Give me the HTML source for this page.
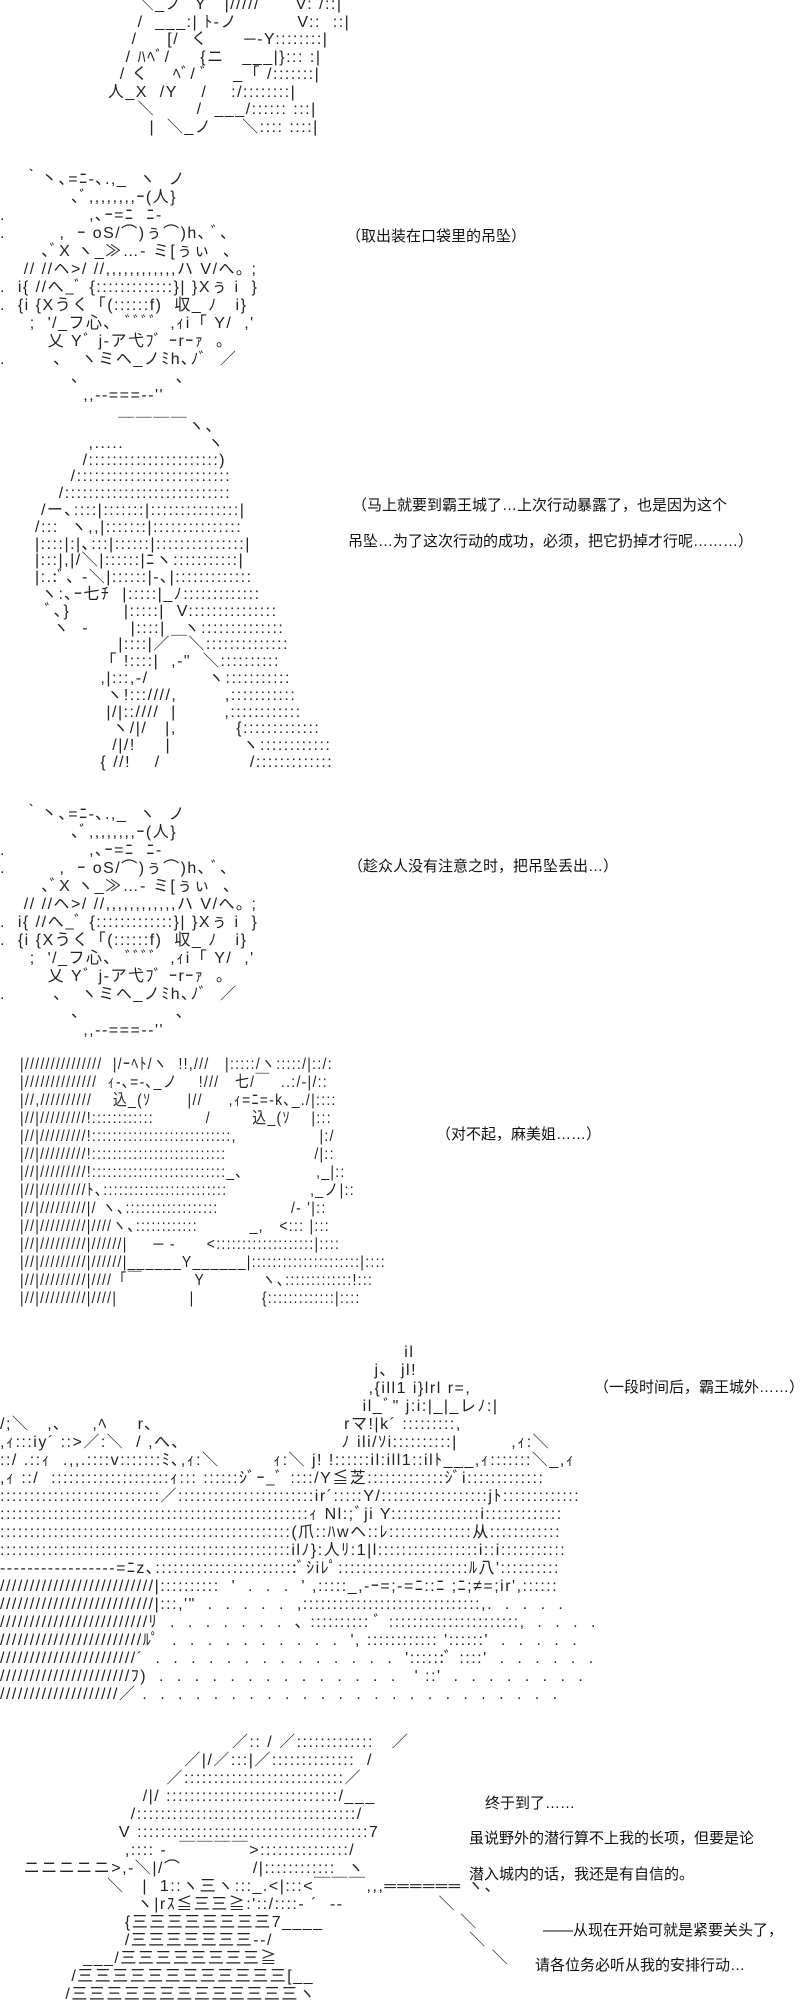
<!DOCTYPE html>
<html><head><meta charset="utf-8">
<style>
html,body{margin:0;padding:0;background:#fff;}
body{width:800px;height:2000px;position:relative;overflow:hidden;}
pre.aa{position:absolute;margin:0;font-family:"Liberation Sans","Noto Sans CJK JP",sans-serif;font-size:16px;letter-spacing:1.5px;line-height:18px;color:#222;white-space:pre;}
.t{position:absolute;font-family:"Liberation Sans","Noto Sans CJK SC",sans-serif;font-size:15px;line-height:18px;color:#111;white-space:nowrap;}
</style></head><body>

<pre class="aa" style="left:90px;top:-4px;line-height:17.5px">        ＼_ノ  Y   |/////      V: /::|
        /  ___:| ﾄ-ノ          V::  ::|
       /     [/  く      ─‐Y::::::::|
      / ﾊﾍﾞ/     {ニ   ___|}::: :|
     / く    ﾍﾞ/ ﾞ    _「 /:::::::|
   人_X  /Y    /    :/::::::::|
        ＼       /  ___/:::::: :::|
          |  ＼_ノ     ＼:::: ::::|</pre>

<pre class="aa" style="left:0px;top:171px">    ｀丶､=ﾆ-､.,_  ヽ  ノ
            ､ﾞ,,,,,,,,ｰ(人}
.              ,､ｰ=ﾆ  ﾆ-
.         ,  ｰ oS/⌒)ぅ⌒)h､ ﾞ､
       ､ﾞX ヽ_≫…‐ ミ[ぅぃ  ､
    // //ヘ>/ //,,,,,,,,,,,,ハ V/へ｡ ;
.  i{ //へ_ﾞ {:::::::::::::}| }Xぅ i  }
.  {i {Xうく「(::::::f)  収_ ﾉ   i}
     ;  '/_フ心､  ﾞﾞﾞﾞ  ,ｨi「 Y/  ,'
        乂 Yﾞ j-ア弋ﾌﾞ ｰrｰｧ  ｡
.        ､   ヽミヘ_ノﾐh､ﾉﾞ  ／
            ､                ､
              ,,‐‐===‐‐''</pre>

<div class="t" style="left:346px;top:228px">（取出装在口袋里的吊坠）</div>

<pre class="aa" style="left:35px;top:419px;line-height:16.8px">              ￣￣￣￣ヽ､
         ,.....              ヽ
        /::::::::::::::::::::::)
      /::::::::::::::::::::::::::
    /::::::::::::::::::::::::::::
 /ー､::::|:::::::|:::::::::::::::|
/:::  ヽ,,|:::::::|:::::::::::::::
|::::|:|､:::|::::::|:::::::::::::::|
|:::|,|/＼|::::::|ﾆヽ:::::::::::|
|:.:ﾞ､ ‐＼|::::::|-､|:::::::::::::
 ヽ:､ｰ七ﾁ  |:::::|_ﾉ:::::::::::::
  ﾞ､}         |:::::|  V:::::::::::::::
   ヽ  -       |::::|   ヽ::::::::::::::
              |::::|／￣＼::::::::::::::
           「 !::::|  ,-"  ＼::::::::::
           ,|:::,-/          ヽ:::::::::::
            ヽ!:::////,        ,:::::::::::
            |/|::////  |        ,::::::::::::
             ヽ/|/   |,          {:::::::::::::
             /|/!     |            ヽ::::::::::::
           { //!    /               /:::::::::::::</pre>

<div class="t" style="left:352px;top:497px">（马上就要到霸王城了…上次行动暴露了，也是因为这个</div>
<div class="t" style="left:348px;top:533px">吊坠…为了这次行动的成功，必须，把它扔掉才行呢………）</div>

<pre class="aa" style="left:0px;top:806px">    ｀丶､=ﾆ-､.,_  ヽ  ノ
            ､ﾞ,,,,,,,,ｰ(人}
.              ,､ｰ=ﾆ  ﾆ-
.         ,  ｰ oS/⌒)ぅ⌒)h､ ﾞ､
       ､ﾞX ヽ_≫…‐ ミ[ぅぃ  ､
    // //ヘ>/ //,,,,,,,,,,,,ハ V/へ｡ ;
.  i{ //へ_ﾞ {:::::::::::::}| }Xぅ i  }
.  {i {Xうく「(::::::f)  収_ ﾉ   i}
     ;  '/_フ心､  ﾞﾞﾞﾞ  ,ｨi「 Y/  ,'
        乂 Yﾞ j-ア弋ﾌﾞ ｰrｰｧ  ｡
.        ､   ヽミヘ_ノﾐh､ﾉﾞ  ／
            ､                ､
              ,,‐‐===‐‐''</pre>

<div class="t" style="left:348px;top:858px">（趁众人没有注意之时，把吊坠丢出…）</div>

<pre class="aa" style="left:20px;top:1056px;transform:scaleX(0.87);transform-origin:0 0">|///////////////  |/ｰﾍﾄ/ヽ  !!,///   |:::::/ヽ:::::/|::/:
|//////////////  ｨ-､=-､_ノ    !///   七/￣  ..:/-|/::
|//,//////////    込_(ｿ       |//     ,ｨ=ﾆ=-k､_./|::::
|//|/////////!::::::::::::          /        込_(ｿ    |:::
|//|/////////!:::::::::::::::::::::::::::,                |:/
|//|/////////!::::::::::::::::::::::::::                 /|::
|//|/////////!::::::::::::::::::::::::::_､              ,_|::
|//|/////////ﾄ､::::::::::::::::::::::::                ,_ノ|::
|//|/////////|/ ヽ､::::::::::::::::::              /- '|::
|//|/////////|////ヽ､::::::::::::          _,   <::: |:::
|//|/////////|//////|     ─ ‐      <:::::::::::::::::::|::::
|//|/////////|//////|______Y______|:::::::::::::::::::::|::::
|//|/////////|////「￣          Y           ヽ､:::::::::::::!:::
|//|/////////|////|              |             {:::::::::::::|::::</pre>

<div class="t" style="left:436px;top:1126px">（对不起，麻美姐……）</div>

<pre class="aa" style="left:0px;top:1344px">                                                                    il
                                                               j､  jl!
                                                              ,{ill1 i}lrl r=,
                                                             il_ﾞ" j:i:|_|_レﾉ:|
/;＼   ,､     ,ﾍ     r､                                rマ!|k´ :::::::::,
,ｨ:::iy´ ::>／:＼  / ,へ､                           ﾉ ili/ｿi::::::::::|         ,ｨ:＼
::/ .::ｨ  .,,.::::v:::::::ﾐ､,ｨ:＼         ｨ:＼ j! !::::::il:ill1::ilﾄ___,ｨ:::::::＼_,ｨ
,ｨ ::/  ::::::::::::::::::::ｨ::: ::::::ｼﾞｰ_ﾞ ::::/Y≦芝:::::::::::::ｼﾞi:::::::::::::
:::::::::::::::::::::::::::／:::::::::::::::::::::::ir´:::::Y/::::::::::::::::::jﾄ:::::::::::::
::::::::::::::::::::::::::::::::::::::::::::::::::::ｨ Nl:;ﾞji Y:::::::::::::::i:::::::::::::
:::::::::::::::::::::::::::::::::::::::::::::::::(爪::ﾊwヘ::ﾚ::::::::::::::从::::::::::::
:::::::::::::::::::::::::::::::::::::::::::::::::ilﾉ}:人ﾘ:1|l:::::::::::::::::i::i:::::::::::
-----------------=ﾆz､::::::::::::::::::::::::ﾞｼiﾚﾟ::::::::::::::::::::::ﾙ八'::::::::::
//////////////////////////|::::::::::  '  .  .  .  ' ,:::::_,-ｰ=;-=ﾆ::ﾆ ;ﾆ;≠=;ir',::::::
//////////////////////////|:::,'"  .  .  .  .  .  ,::::::::::::::::::::::::::::::,.  .  .  .  .
/////////////////////////ﾘ  .  .  .  .  .  .  .  ､ :::::::::: ﾞ ::::::::::::::::::::::,  .  .  .  .
////////////////////////ﾙﾟ  .  .  .  .  .  .  .  .  .  .  ', :::::::::::: '::::::'  .  .  .  .  .
///////////////////////´  .  .  .  .  .  .  .  .  .  .  .  .  .  .  '::::::ﾞ ::::'  .  .  .  .  .  .
//////////////////////ﾌ)  .  .  .  .  .  .  .  .  .  .  .  .  .  .   ' ::'  .  .  .  .  .  .  .  .
////////////////////／ .  .  .  .  .  .  .  .  .  .  .  .  .  .  .  .  .  .  .  .  .  .  .  .</pre>

<div class="t" style="left:594px;top:1379px">（一段时间后，霸王城外……）</div>

<pre class="aa" style="left:0px;top:1734px">                                       ／:: / ／:::::::::::::   ／
                               ／|/／:::|／::::::::::::::  /
                            ／:::::::::::::::::::::::::::／
                        /|/ :::::::::::::::::::::::::::::/___
                      /:::::::::::::::::::::::::::::::::::::/
                    V :::::::::::::::::::::::::::::::::::::::7
                     ,:::: ‐  ￣￣￣￣>:::::::::::::::/
    ニニニニニ>,‐＼|/⌒            /|::::::::::::  ヽ
                  ＼   |  1::ヽ三ヽ:::_.<|:::<￣￣￣,,,══════ ヽ､
                       ヽ|rｽ≦三三≧:'::/::::‐ ´  ‐‐                ＼
                     {三三三三三三三三7____                       ＼
                     /三三三三三三三--/                                 ＼
              ___/三三三三三三三三≧                                    ＼
            /三三三三三三三三三三三三[__
           /三三三三三三三三三三三三三ヽ</pre>

<div class="t" style="left:485px;top:1795px">终于到了……</div>
<div class="t" style="left:469px;top:1830px">虽说野外的潜行算不上我的长项，但要是论</div>
<div class="t" style="left:469px;top:1866px">潜入城内的话，我还是有自信的。</div>
<div class="t" style="left:543px;top:1922px">——从现在开始可就是紧要关头了，</div>
<div class="t" style="left:535px;top:1957px">请各位务必听从我的安排行动…</div>

</body></html>
